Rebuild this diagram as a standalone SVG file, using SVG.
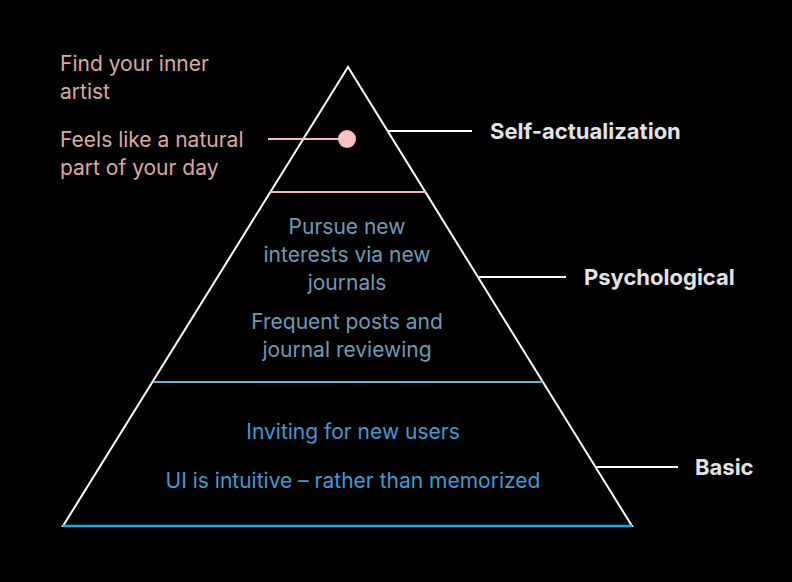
<svg xmlns="http://www.w3.org/2000/svg" width="792" height="582" viewBox="0 0 792 582">
<style>
.lbl{font-family:Inter,"Liberation Sans",sans-serif;font-size:22px;font-weight:700;fill:#e3e3e3}
.t{font-family:Inter,"Liberation Sans",sans-serif;font-size:21px}
.pink{fill:#dca8a6}
.psy{fill:#6d9bb6}
.bas{fill:#3f9bd4}
.w{stroke:#ffffff;stroke-width:2;fill:none}
</style>
<rect width="792" height="582" fill="#000"/>
<g id="pyramid">
<polygon points="348,67 63,526 632,526" fill="#000" stroke="#fff" stroke-width="2" stroke-linejoin="miter"/>
<line x1="270" y1="192" x2="426" y2="192" stroke="#f6b8b8" stroke-width="2"/>
<line x1="153" y1="382" x2="543" y2="382" stroke="#74aed0" stroke-width="2"/>
<line x1="63" y1="526" x2="632" y2="526" stroke="#1ea3de" stroke-width="2.5"/>
</g>
<g id="connectors">
<line class="w" x1="388" y1="131" x2="472" y2="131"/>
<line class="w" x1="478" y1="277" x2="566" y2="277"/>
<line class="w" x1="596" y1="467" x2="678" y2="467"/>
<line x1="268" y1="139" x2="340" y2="139" stroke="#f6b8b8" stroke-width="2"/>
</g>
<g id="marker-dot"><circle cx="347" cy="139" r="9" fill="#ffc1c1"/></g>
<g id="self-actualization">
<text class="lbl" x="490" y="139">Self-actualization</text>
<text class="t pink" x="60" y="71">Find your inner</text>
<text class="t pink" x="60" y="99">artist</text>
<text class="t pink" x="60" y="147">Feels like a natural</text>
<text class="t pink" x="60" y="175">part of your day</text>
</g>
<g id="psychological">
<text class="lbl" x="584" y="285">Psychological</text>
<text class="t psy" text-anchor="middle" x="347" y="234">Pursue new</text>
<text class="t psy" text-anchor="middle" x="347" y="262">interests via new</text>
<text class="t psy" text-anchor="middle" x="347" y="290">journals</text>
<text class="t psy" text-anchor="middle" x="347" y="329">Frequent posts and</text>
<text class="t psy" text-anchor="middle" x="347" y="357">journal reviewing</text>
</g>
<g id="basic">
<text class="lbl" x="695" y="475">Basic</text>
<text class="t bas" text-anchor="middle" x="353" y="439">Inviting for new users</text>
<text class="t bas" text-anchor="middle" x="353" y="488">UI is intuitive – rather than memorized</text>
</g>
</svg>
